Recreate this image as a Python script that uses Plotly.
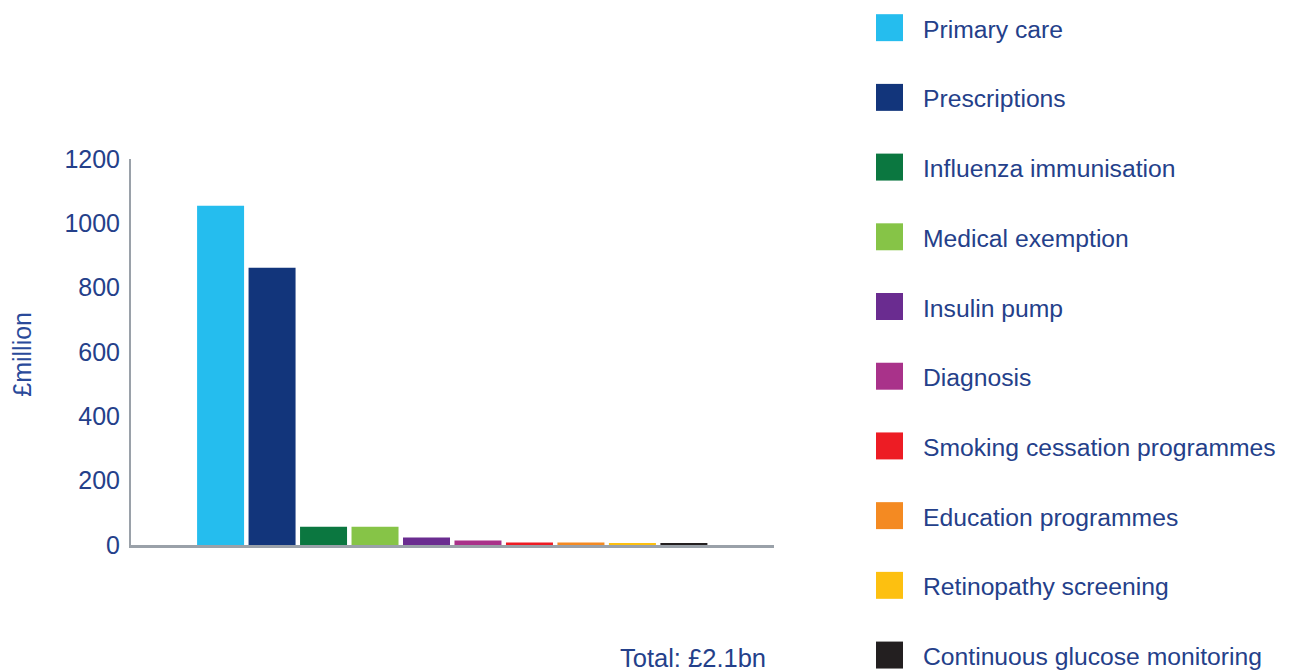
import plotly.graph_objects as go

categories = ["Primary care", "Prescriptions", "Influenza immunisation", "Medical exemption",
              "Insulin pump", "Diagnosis", "Smoking cessation programmes", "Education programmes",
              "Retinopathy screening", "Continuous glucose monitoring"]
values = [1055, 862, 57, 57, 23, 14, 8, 8, 5, 5]
colors = ["#25bdee", "#12357b", "#0b7740", "#86c447", "#6a2c90", "#a9328a",
          "#ed1c24", "#f48a22", "#fdc010", "#231f20"]
y_ticks = [0, 200, 400, 600, 800, 1000, 1200]
y_title = "£million"
total_label = "Total: £2.1bn"

W, H = 1289, 672
L, R, T, B = 131, 774, 159, 545.5
TEXT = "#24408a"
FONT = "Liberation Sans, Arial, Helvetica, sans-serif"

def px(x):
    return (x - L) / (R - L)

def py(y):
    return (B - y) / (B - T)

fig = go.Figure()
for i, (cat, v, c) in enumerate(zip(categories, values, colors)):
    fig.add_trace(go.Bar(x=[i], y=[v], name=cat, marker=dict(color=c, line=dict(width=0)),
                         width=0.913, showlegend=False))

shapes = []
annotations = []
for i, (cat, c) in enumerate(zip(categories, colors)):
    yc = 27.5 + i * 69.8
    shapes.append(dict(type="rect", xref="paper", yref="paper",
                       x0=px(876), x1=px(903), y0=py(yc + 13.5), y1=py(yc - 13.5),
                       fillcolor=c, line=dict(width=0)))
    annotations.append(dict(text=cat, xref="paper", yref="paper", x=px(921), y=py(yc + 1.5),
                            xanchor="left", yanchor="middle", showarrow=False,
                            font=dict(size=24.7, color=TEXT, family=FONT)))

annotations.append(dict(text=y_title, xref="paper", yref="paper", x=px(22), y=py(355),
                        xanchor="center", yanchor="middle", textangle=-90, showarrow=False,
                        font=dict(size=25, color="#2a4a9a", family=FONT)))
annotations.append(dict(text=total_label, xref="paper", yref="paper", x=px(768), y=py(659),
                        xanchor="right", yanchor="middle", showarrow=False,
                        font=dict(size=25.5, color=TEXT, family=FONT)))

fig.update_layout(
    width=W, height=H,
    margin=dict(l=L, r=W - R, t=T, b=H - B, autoexpand=False),
    paper_bgcolor="white", plot_bgcolor="white",
    barmode="overlay",
    showlegend=False,
    shapes=shapes, annotations=annotations,
    font=dict(family=FONT, color=TEXT),
    xaxis=dict(range=[-1.74, 10.75], showticklabels=False, showgrid=False, zeroline=False,
               showline=True, linecolor="#9aa1a9", linewidth=3, ticks=""),
    yaxis=dict(range=[0, 1200], tickvals=y_ticks, showgrid=False, zeroline=False,
               showline=True, linecolor="#9aa1a9", linewidth=2, ticks="",
               ticklabelstandoff=4, tickfont=dict(size=25, color=TEXT, family=FONT)),
)

fig.write_html("out.html", config={"displayModeBar": False},
               post_script="document.body.style.margin='0';")
